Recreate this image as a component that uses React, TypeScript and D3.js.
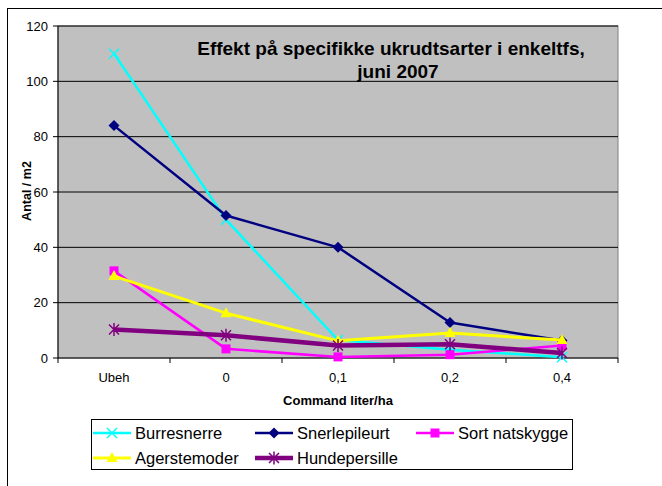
import React from 'react';
import * as d3 from 'd3';

const categories = ['Ubeh', '0', '0,1', '0,2', '0,4'];
const burresnerre = [110, 50, 6.5, 3, 0.3];
const snerlepileurt = [84, 51.5, 40, 12.8, 6.3];
const sortNatskygge = [31.5, 3.3, 0.4, 1.2, 4.5];
const agerstemoder = [29.6, 16.2, 6.2, 9, 6.5];
const hundepersille = [10.3, 8.2, 4.5, 5, 1.8];
const yTicks = [0, 20, 40, 60, 80, 100, 120];

const series = [
  { name: 'Burresnerre', values: burresnerre, color: '#00FFFF', marker: 'x', lw: 2.5 },
  { name: 'Snerlepileurt', values: snerlepileurt, color: '#000080', marker: 'diamond', lw: 2.5 },
  { name: 'Sort natskygge', values: sortNatskygge, color: '#FF00FF', marker: 'square', lw: 2.5 },
  { name: 'Agerstemoder', values: agerstemoder, color: '#FFFF00', marker: 'triangle', lw: 3 },
  { name: 'Hundepersille', values: hundepersille, color: '#800080', marker: 'star', lw: 4.5 },
];

const W = 662;
const H = 486;
const plot = { left: 58, right: 618, top: 26, bottom: 358 };
const font = 'Arial, "Liberation Sans", sans-serif';

const Marker = ({ type, color, x, y }) => {
  const t = `translate(${x},${y})`;
  if (type === 'x')
    return <path transform={t} d="M-5,-5L5,5M-5,5L5,-5" stroke={color} strokeWidth={1.5} fill="none" />;
  if (type === 'diamond')
    return <path transform={t} d="M0,-5.5L5.5,0L0,5.5L-5.5,0Z" fill={color} />;
  if (type === 'square') return <rect x={x - 4.5} y={y - 4.5} width={9} height={9} fill={color} />;
  if (type === 'triangle') return <path transform={t} d="M0,-6L5.5,4L-5.5,4Z" fill={color} />;
  return (
    <path
      transform={t}
      d="M-5,-5L5,5M-5,5L5,-5M0,-6.5L0,6.5"
      stroke={color}
      strokeWidth={1.5}
      fill="none"
    />
  );
};

export default function App() {
  const x = d3.scaleBand().domain(categories).range([plot.left, plot.right]);
  const y = d3.scaleLinear().domain([0, 120]).range([plot.bottom, plot.top]);
  const cx = (c) => x(c) + x.bandwidth() / 2;

  const line = d3
    .line()
    .x((d, i) => cx(categories[i]))
    .y((d) => y(d));

  const bandEdges = categories.map((c) => x(c)).concat([plot.right]);
  const legendCols = [93, 255, 416];

  return (
    <svg
      width={W}
      height={H}
      style={{ position: 'absolute', left: 0, top: 0, background: '#fff' }}
      fontFamily={font}
    >
      {/* outer chart frame */}
      <rect x={7.5} y={8.5} width={W + 20} height={H + 20} fill="#fff" stroke="#000" strokeWidth={1} />

      {/* plot area */}
      <rect
        x={plot.left}
        y={plot.top}
        width={plot.right - plot.left}
        height={plot.bottom - plot.top}
        fill="#C0C0C0"
        stroke="#808080"
        strokeWidth={1}
      />
      {yTicks.map((t) => (
        <g key={t}>
          {t > 0 && (
            <line x1={plot.left} x2={plot.right} y1={y(t)} y2={y(t)} stroke="#000" strokeWidth={1} />
          )}
          <line x1={plot.left - 5} x2={plot.left} y1={y(t)} y2={y(t)} stroke="#000" />
          <text x={plot.left - 10} y={y(t)} dy="0.35em" textAnchor="end" fontSize={13}>
            {t}
          </text>
        </g>
      ))}
      <line x1={plot.left} x2={plot.left} y1={plot.top} y2={plot.bottom} stroke="#000" />
      <line x1={plot.left} x2={plot.right} y1={plot.bottom} y2={plot.bottom} stroke="#000" />
      {bandEdges.map((e, i) => (
        <line key={i} x1={e} x2={e} y1={plot.bottom} y2={plot.bottom + 5} stroke="#000" />
      ))}
      {categories.map((c) => (
        <text key={c} x={cx(c)} y={382} textAnchor="middle" fontSize={13}>
          {c}
        </text>
      ))}

      {/* axis titles */}
      <text x={338} y={405} textAnchor="middle" fontSize={13} fontWeight="bold">
        Command liter/ha
      </text>
      <text
        transform="translate(31,191) rotate(-90)"
        textAnchor="middle"
        fontSize={12.5}
        fontWeight="bold"
      >
        Antal / m2
      </text>

      {/* title */}
      <text x={391} y={55} textAnchor="middle" fontSize={19} fontWeight="bold">
        Effekt på specifikke ukrudtsarter i enkeltfs,
      </text>
      <text x={398} y={78} textAnchor="middle" fontSize={19} fontWeight="bold">
        juni 2007
      </text>

      {/* series */}
      {series.map((s) => (
        <g key={s.name}>
          <path d={line(s.values)} fill="none" stroke={s.color} strokeWidth={s.lw} strokeLinejoin="round" />
          {s.values.map((v, i) => (
            <Marker key={i} type={s.marker} color={s.color} x={cx(categories[i])} y={y(v)} />
          ))}
        </g>
      ))}

      {/* legend */}
      <rect x={91.5} y={419.5} width={481} height={50} fill="#fff" stroke="#000" />
      {series.map((s, i) => {
        const lx = legendCols[i % 3];
        const ly = 433 + Math.floor(i / 3) * 25;
        return (
          <g key={s.name}>
            <line x1={lx} x2={lx + 38} y1={ly} y2={ly} stroke={s.color} strokeWidth={s.lw} />
            <Marker type={s.marker} color={s.color} x={lx + 19} y={ly} />
            <text x={lx + 42} y={ly} dy="0.35em" fontSize={16.5}>
              {s.name}
            </text>
          </g>
        );
      })}
    </svg>
  );
}
